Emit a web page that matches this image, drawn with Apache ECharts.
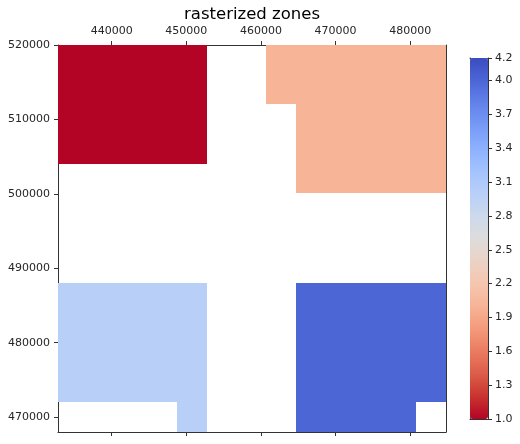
<!DOCTYPE html>
<html>
<head>
<meta charset="utf-8">
<title>rasterized zones</title>
<script src="https://cdn.jsdelivr.net/npm/echarts@6/dist/echarts.min.js"></script>
<style>
html, body { margin: 0; padding: 0; background: #fff; }
#main { width: 520px; height: 444px; }
</style>
</head>
<body>
<div id="main"></div>
<script>
var chartTitle = 'rasterized zones';
var xTicks = [440000, 450000, 460000, 470000, 480000];
var yTicks = [470000, 480000, 490000, 500000, 510000, 520000];
var colorTicks = [1.0, 1.3, 1.6, 1.9, 2.2, 2.5, 2.8, 3.1, 3.4, 3.7, 4.0, 4.2];
var xMin = 432800, xMax = 484800;
var yMin = 468000, yMax = 520000;
var cellSize = 4000;
var colorMin = 1.0, colorMax = 4.2;
// coolwarm, from colorMin up to colorMax
var colorStops = [
    '#b40426', '#c9342f', '#dc5d4a', '#ea7b60', '#f49a7b', '#f7b497', '#f5c6af', '#ebd3c6', '#dddcdc',
    '#cdd9ec', '#b8cff8', '#a3c2fe', '#8db0fe', '#779af7', '#6282ea', '#4c66d6', '#3b4cc0'
];

// zone per cell, top row first (n = no data)
var n = null;
var zoneRows = [
    [1, 1, 1, 1, 1, n, n, 2, 2, 2, 2, 2, 2],
    [1, 1, 1, 1, 1, n, n, 2, 2, 2, 2, 2, 2],
    [1, 1, 1, 1, 1, n, n, n, 2, 2, 2, 2, 2],
    [1, 1, 1, 1, 1, n, n, n, 2, 2, 2, 2, 2],
    [n, n, n, n, n, n, n, n, 2, 2, 2, 2, 2],
    [n, n, n, n, n, n, n, n, n, n, n, n, n],
    [n, n, n, n, n, n, n, n, n, n, n, n, n],
    [n, n, n, n, n, n, n, n, n, n, n, n, n],
    [3, 3, 3, 3, 3, n, n, n, 4, 4, 4, 4, 4],
    [3, 3, 3, 3, 3, n, n, n, 4, 4, 4, 4, 4],
    [3, 3, 3, 3, 3, n, n, n, 4, 4, 4, 4, 4],
    [3, 3, 3, 3, 3, n, n, n, 4, 4, 4, 4, 4],
    [n, n, n, n, 3, n, n, n, 4, 4, 4, 4, n]
];

var cells = [];
zoneRows.forEach(function (row, r) {
    row.forEach(function (zone, c) {
        if (zone !== null) {
            cells.push([xMin + c * cellSize, yMax - r * cellSize, zone]);
        }
    });
});

var textColor = '#262626';
var lineColor = '#333';
var fontName = '"DejaVu Sans"';

function frameAxis(grid, pos) {
    return {
        type: 'value',
        gridIndex: grid,
        position: pos,
        min: 0,
        max: 1,
        axisLine: { show: true, onZero: false, lineStyle: { color: lineColor, width: 1 } },
        axisTick: { show: false },
        axisLabel: { show: false },
        splitLine: { show: false }
    };
}

function tickAxis(pos, min, max, ticks) {
    return {
        type: 'value',
        position: pos,
        min: min,
        max: max,
        axisLine: { show: true, onZero: false, lineStyle: { color: lineColor, width: 1 } },
        axisTick: { show: true, length: 4, customValues: ticks, lineStyle: { color: lineColor, width: 1 } },
        axisLabel: {
            show: pos == 'top' || pos == 'left',
            customValues: ticks,
            color: textColor,
            fontFamily: fontName,
            fontSize: 11,
            margin: 8,
            padding: pos == 'left' ? [4, 0, 0, 0] : 0,
            formatter: function (v) { return String(v); }
        },
        splitLine: { show: false }
    };
}

var colorAxis = {
    type: 'value',
    gridIndex: 1,
    position: 'right',
    min: colorMin,
    max: colorMax,
    axisLine: { show: true, onZero: false, lineStyle: { color: lineColor, width: 1 } },
    axisTick: { show: true, length: 4, customValues: colorTicks, lineStyle: { color: lineColor, width: 1 } },
    axisLabel: {
        show: true,
        customValues: colorTicks,
        color: textColor,
        fontFamily: fontName,
        fontSize: 11,
        margin: 7,
        padding: [4, 0, 0, 0],
        formatter: function (v) { return v.toFixed(1); }
    },
    splitLine: { show: false }
};

var myChart = echarts.init(document.getElementById('main'), null, { renderer: 'canvas' });
myChart.setOption({
    animation: false,
    backgroundColor: '#fff',
    title: {
        text: chartTitle,
        left: 252,
        top: 6,
        padding: 0,
        textAlign: 'center',
        textStyle: { color: '#000', fontFamily: fontName, fontWeight: 'normal', fontSize: 16.5 }
    },
    grid: [
        { left: 58, top: 45, width: 388, height: 387 },
        { left: 470, top: 58, width: 18, height: 361 }
    ],
    xAxis: [
        tickAxis('top', xMin, xMax, xTicks),
        tickAxis('bottom', xMin, xMax, xTicks),
        frameAxis(1, 'top'),
        frameAxis(1, 'bottom')
    ],
    yAxis: [
        tickAxis('left', yMin, yMax, yTicks),
        { type: 'value', position: 'right', min: yMin, max: yMax,
          axisLine: { show: true, onZero: false, lineStyle: { color: lineColor, width: 1 } },
          axisTick: { show: false }, axisLabel: { show: false }, splitLine: { show: false } },
        frameAxis(1, 'left'),
        colorAxis
    ],
    visualMap: {
        type: 'continuous',
        seriesIndex: 0,
        dimension: 2,
        min: colorMin,
        max: colorMax,
        left: 470,
        top: 58,
        padding: 0,
        itemWidth: 18,
        itemHeight: 361,
        text: null,
        calculable: false,
        hoverLink: false,
        inRange: { color: colorStops }
    },
    series: [{
        type: 'custom',
        xAxisIndex: 0,
        yAxisIndex: 0,
        data: cells,
        encode: { x: 0, y: 1 },
        z: 1,
        renderItem: function (params, api) {
            var a = api.coord([api.value(0), api.value(1)]);
            var b = api.coord([api.value(0) + cellSize, api.value(1) - cellSize]);
            // snap to whole pixels so neighbouring cells leave no seams
            var x0 = Math.floor(a[0]), y0 = Math.floor(a[1]);
            var x1 = Math.floor(b[0]), y1 = Math.floor(b[1]);
            return {
                type: 'rect',
                shape: { x: x0, y: y0, width: x1 - x0, height: y1 - y0 },
                style: { fill: api.visual('color') }
            };
        }
    }]
});
</script>
</body>
</html>
